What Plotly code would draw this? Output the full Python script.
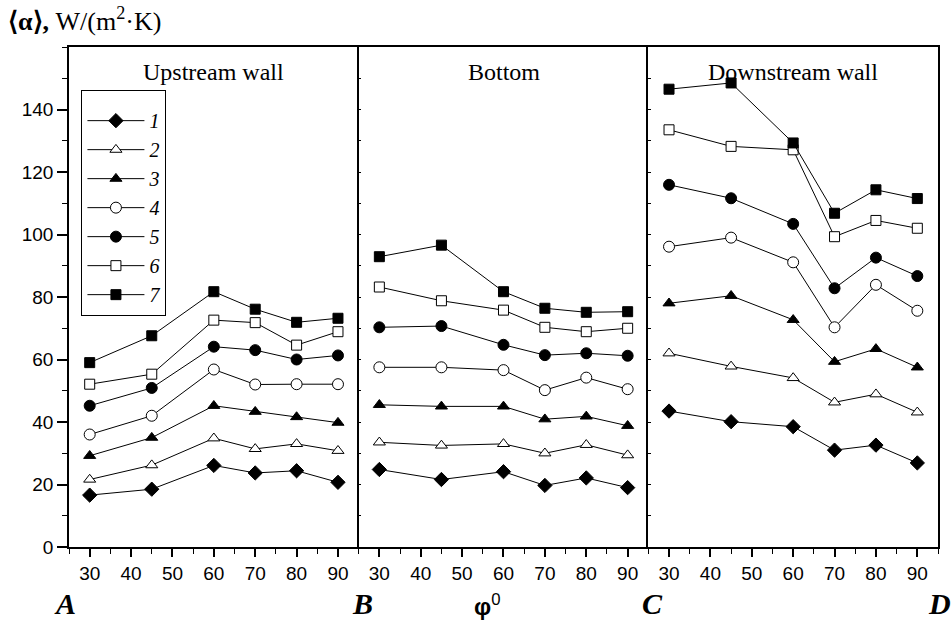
import plotly.graph_objects as go

angles = [30, 45, 60, 70, 80, 90]
series_names = ["1", "2", "3", "4", "5", "6", "7"]
panel_titles = ["Upstream wall", "Bottom", "Downstream wall"]
corner_letters = ["A", "B", "C", "D"]

# Upstream wall
up_1 = [16.6, 18.5, 26.1, 23.7, 24.4, 20.7]
up_2 = [21.6, 26.2, 34.8, 31.4, 33.0, 30.8]
up_3 = [29.2, 35.0, 45.2, 43.3, 41.6, 39.8]
up_4 = [36.0, 42.0, 56.8, 52.0, 52.1, 52.1]
up_5 = [45.2, 50.9, 64.1, 63.0, 60.0, 61.3]
up_6 = [52.1, 55.3, 72.6, 71.8, 64.6, 68.9]
up_7 = [59.0, 67.6, 81.7, 76.1, 71.9, 73.2]

# Bottom
bo_1 = [24.8, 21.6, 24.1, 19.7, 22.1, 19.0]
bo_2 = [33.5, 32.5, 33.0, 30.0, 32.7, 29.4]
bo_3 = [45.5, 45.0, 45.0, 40.9, 41.8, 38.8]
bo_4 = [57.5, 57.5, 56.6, 50.2, 54.2, 50.5]
bo_5 = [70.3, 70.7, 64.7, 61.4, 62.0, 61.2]
bo_6 = [83.2, 78.8, 75.8, 70.3, 68.9, 70.0]
bo_7 = [92.9, 96.6, 81.7, 76.4, 75.1, 75.3]

# Downstream wall
dn_1 = [43.5, 40.1, 38.5, 31.0, 32.6, 26.9]
dn_2 = [62.0, 57.8, 54.1, 46.3, 48.9, 43.1]
dn_3 = [78.0, 80.4, 72.7, 59.3, 63.4, 57.5]
dn_4 = [96.1, 99.0, 91.1, 70.3, 83.9, 75.6]
dn_5 = [115.9, 111.6, 103.4, 82.8, 92.6, 86.7]
dn_6 = [133.5, 128.2, 127.1, 99.3, 104.5, 102.0]
dn_7 = [146.5, 148.5, 129.3, 106.8, 114.3, 111.5]

panels = [
    [up_1, up_2, up_3, up_4, up_5, up_6, up_7],
    [bo_1, bo_2, bo_3, bo_4, bo_5, bo_6, bo_7],
    [dn_1, dn_2, dn_3, dn_4, dn_5, dn_6, dn_7],
]

styles = [
    dict(symbol="diamond", color="black", size=11),
    dict(symbol="triangle-up", color="white", size=10.5),
    dict(symbol="triangle-up", color="black", size=10.5),
    dict(symbol="circle", color="white", size=11),
    dict(symbol="circle", color="black", size=11),
    dict(symbol="square", color="white", size=10),
    dict(symbol="square", color="black", size=10),
]

fig = go.Figure()
for p, data in enumerate(panels):
    xa = "x" if p == 0 else f"x{p+1}"
    ya = "y" if p == 0 else f"y{p+1}"
    for i, vals in enumerate(data):
        st = styles[i]
        fig.add_trace(go.Scatter(
            x=angles, y=vals, xaxis=xa, yaxis=ya,
            mode="lines+markers", name=f"<i>{series_names[i]}</i>",
            legendgroup=series_names[i], showlegend=(p == 0),
            line=dict(color="black", width=1),
            marker=dict(symbol=st["symbol"], size=st["size"], color=st["color"],
                        line=dict(color="black", width=1)),
        ))

tick_font = dict(family="Liberation Sans, Arial", size=19, color="black")
doms = [[0, 1/3], [1/3, 2/3], [2/3, 1]]
layout = dict(
    width=952, height=627,
    margin=dict(l=69, r=14, t=47, b=80),
    paper_bgcolor="white", plot_bgcolor="white",
    showlegend=True,
    legend=dict(x=0.0143, y=0.9145, xanchor="left", yanchor="top",
                bgcolor="white", bordercolor="black", borderwidth=1,
                font=dict(family="Liberation Serif, Times New Roman", size=20, color="black"),
                itemwidth=57, tracegroupgap=0,
                title=dict(text=" ", font=dict(size=8))),
)
for p in range(3):
    xk = "xaxis" if p == 0 else f"xaxis{p+1}"
    yk = "yaxis" if p == 0 else f"yaxis{p+1}"
    layout[xk] = dict(
        domain=doms[p], range=[25, 95], anchor="y" if p == 0 else f"y{p+1}",
        tickvals=[30, 40, 50, 60, 70, 80, 90], ticks="outside", ticklen=8,
        tickwidth=1.5, tickcolor="black", showline=True, linecolor="black",
        linewidth=1.5, mirror=True, showgrid=False, zeroline=False,
        tickfont=tick_font,
        minor=dict(dtick=5, tick0=25, ticks="outside", ticklen=5, tickcolor="black", tickwidth=1),
    )
    ydict = dict(
        domain=[0, 1], range=[0, 160], anchor="x" if p == 0 else f"x{p+1}",
        showline=True, linecolor="black", linewidth=1.5, mirror=(p == 2),
        showgrid=False, zeroline=False,
    )
    if p == 0:
        ydict.update(tickvals=[0, 20, 40, 60, 80, 100, 120, 140], ticks="outside",
                     ticklen=10, tickwidth=1.5, tickcolor="black", tickfont=tick_font,
                     minor=dict(dtick=10, tick0=0, ticks="outside", ticklen=5,
                                tickcolor="black", tickwidth=1))
    else:
        ydict.update(matches="y", showticklabels=False, ticks="inside", ticklen=3,
                     tickvals=[10 * k for k in range(16)], tickcolor="black", tickwidth=1)
    layout[yk] = ydict

fig.update_layout(**layout)

plot_top_px, plot_bot_px = 47, 627 - 80
def ypaper(px):
    return (plot_bot_px - px) / (plot_bot_px - plot_top_px)
def xpaper(px):
    return (px - 69) / (952 - 69 - 14)

serif = "Liberation Serif, Times New Roman"
for p, t in enumerate(panel_titles):
    fig.add_annotation(text=t, x=(p + 0.5) / 3, y=ypaper(72), xref="paper", yref="paper",
                       showarrow=False, xanchor="center", yanchor="middle",
                       font=dict(family=serif, size=24, color="black"))

# Y-axis title
fig.add_annotation(text="<b>\u27e8\u03b1\u27e9,</b> W/(m<sup>2</sup>\u00b7K)",
                   x=xpaper(6), y=ypaper(20), xref="paper", yref="paper",
                   xanchor="left", yanchor="middle", showarrow=False,
                   font=dict(family=serif, size=26, color="black"))

# Corner letters
letter_px = [65, 362, 652, 939]
for L, px in zip(corner_letters, letter_px):
    fig.add_annotation(text=f"<b><i>{L}</i></b>", x=xpaper(px), y=ypaper(603),
                       xref="paper", yref="paper", showarrow=False,
                       xanchor="center", yanchor="middle",
                       font=dict(family=serif, size=30, color="black"))

# x axis label
fig.add_annotation(text="<b>\u03c6</b><sup>0</sup>", x=xpaper(487), y=ypaper(605),
                   xref="paper", yref="paper", showarrow=False,
                   xanchor="center", yanchor="middle",
                   font=dict(family="Liberation Sans, Arial", size=24, color="black"))

fig.write_html("out.html")
